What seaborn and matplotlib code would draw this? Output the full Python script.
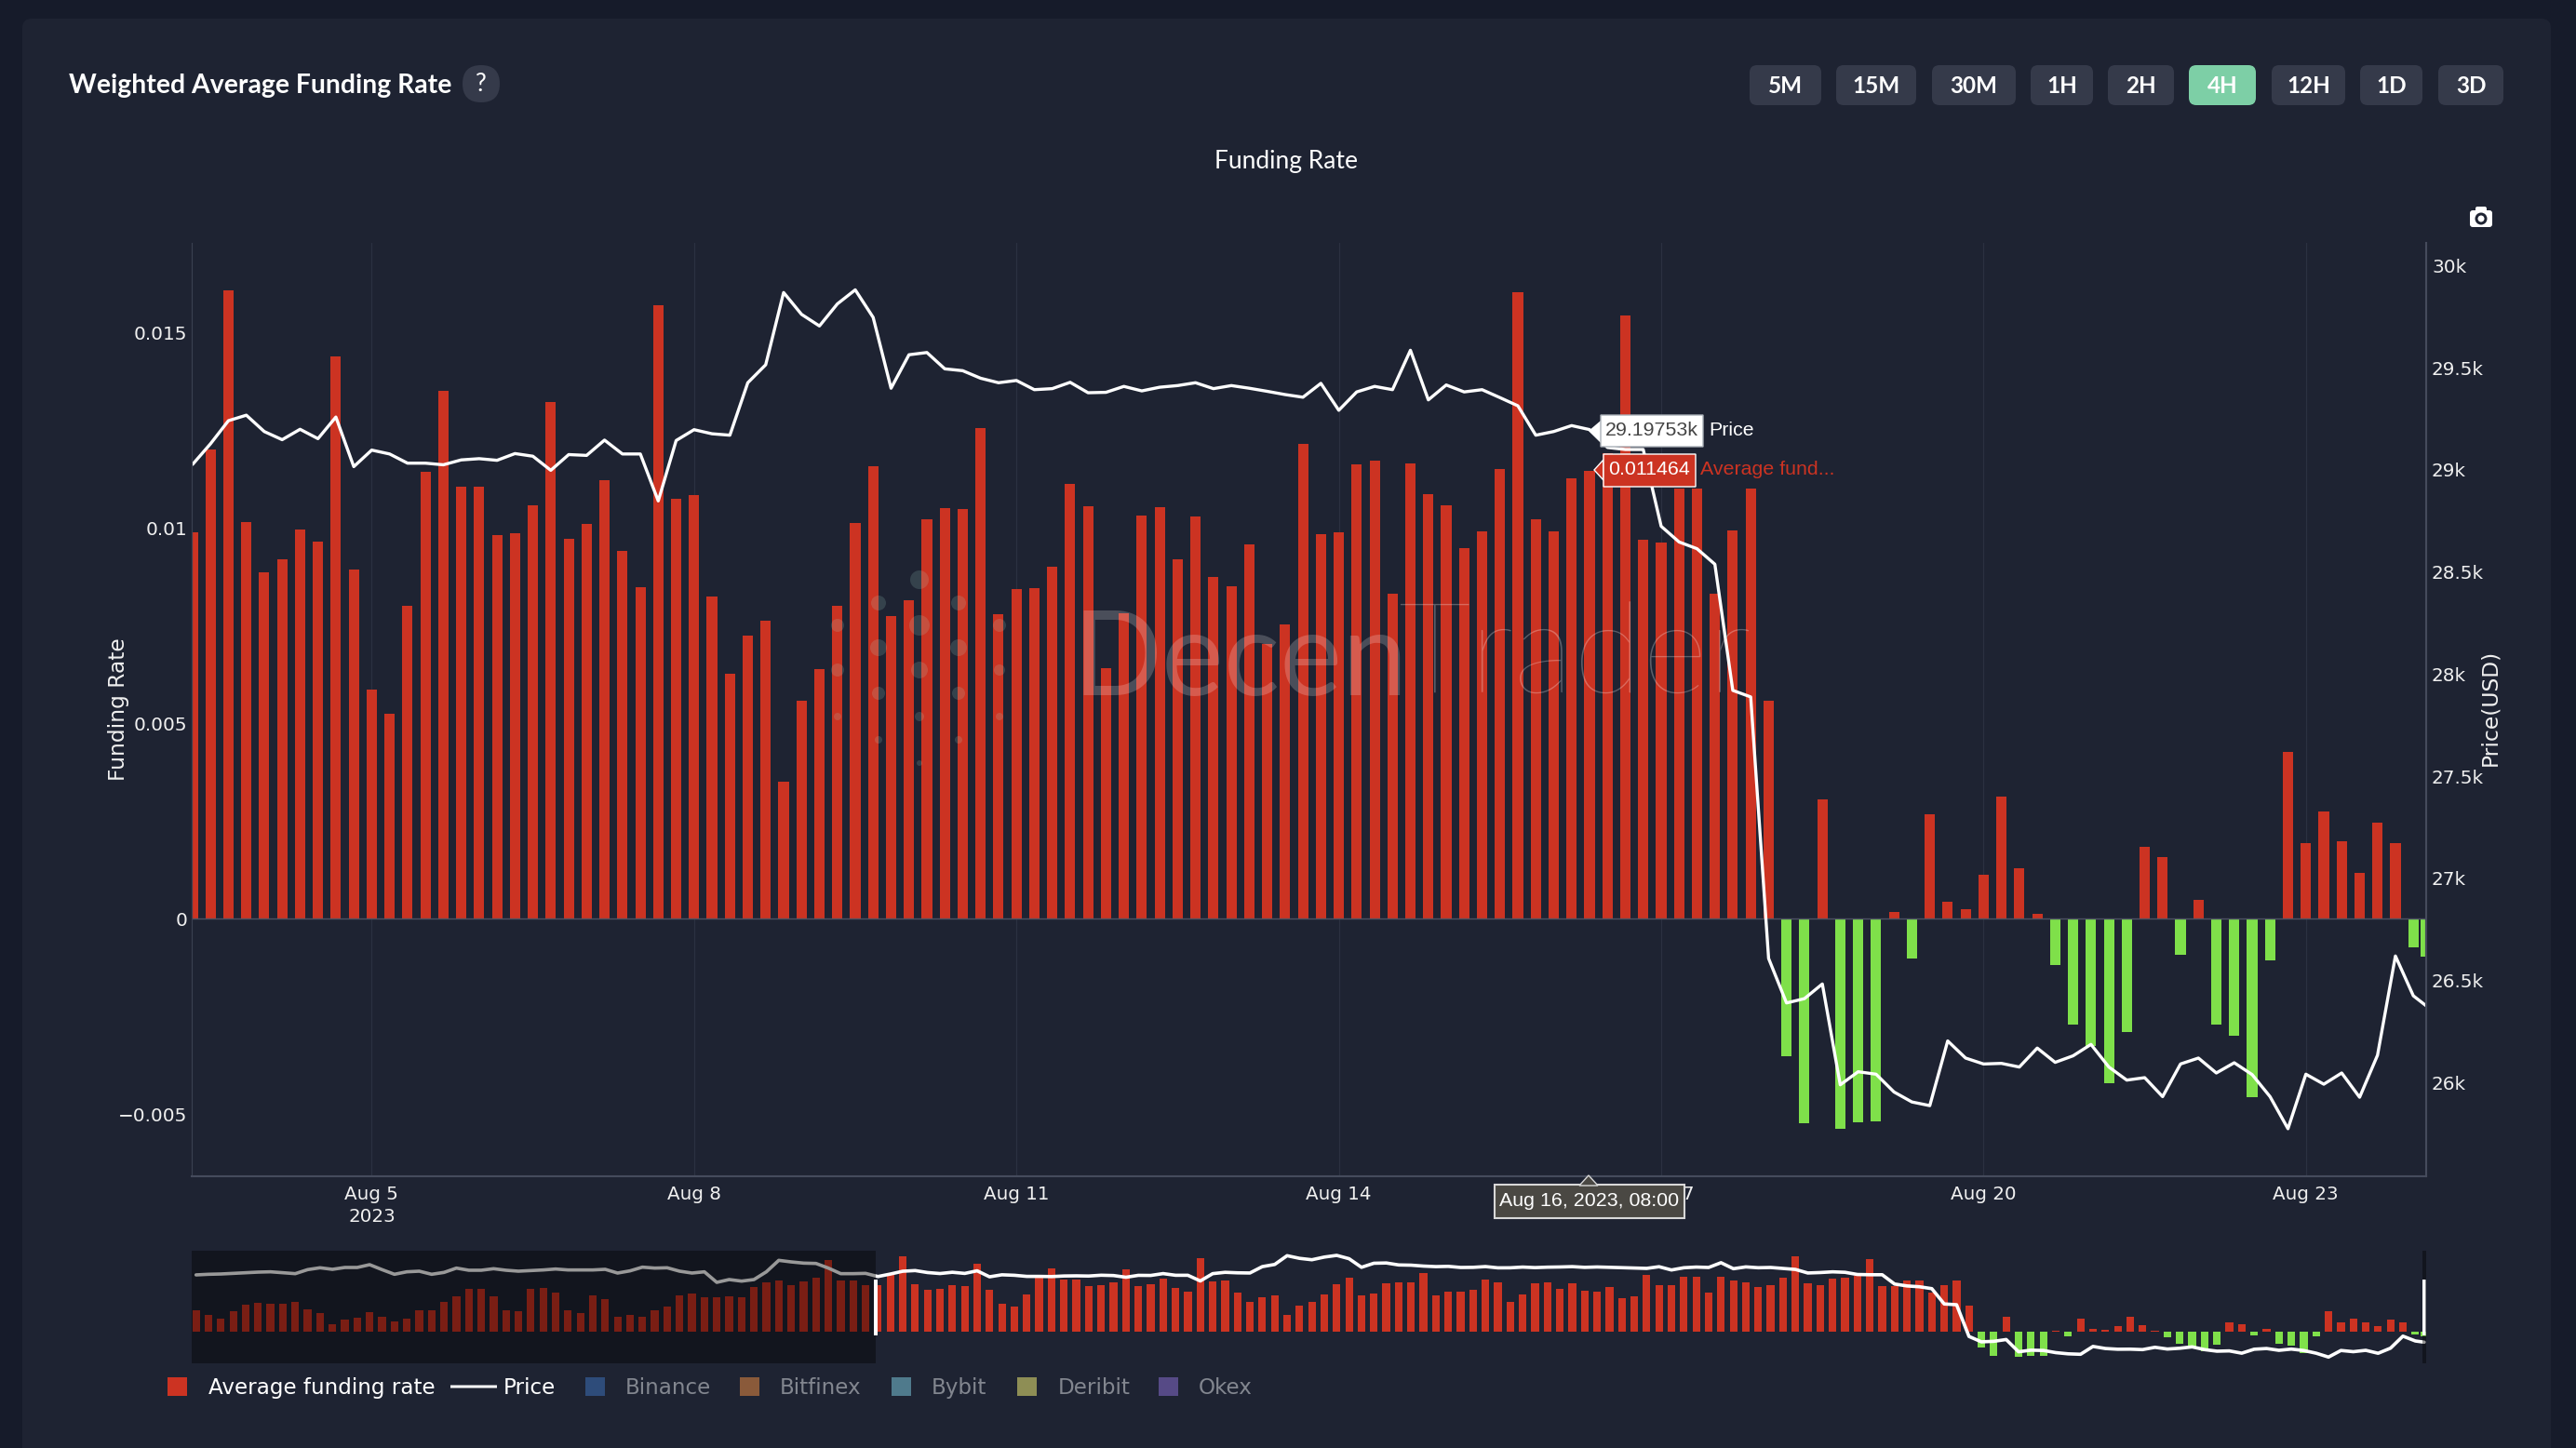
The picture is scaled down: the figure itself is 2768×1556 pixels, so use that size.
import numpy as np
import pandas as pd
import seaborn as sns
import matplotlib
matplotlib.use('Agg')
import matplotlib.pyplot as plt
import matplotlib.dates as mdates
from matplotlib.patches import FancyBboxPatch, Rectangle, Polygon, Circle
from matplotlib.transforms import IdentityTransform

W, H = 2768, 1556

# funding rate, 4h bars, part left of the range slider window
funding_hist = [0.00445, 0.00352, 0.00272, 0.00439, 0.00578, 0.00611, 0.00591, 0.00585, 0.00631, 0.00472,
                0.00399, 0.00153, 0.00252, 0.00292, 0.00405, 0.00306, 0.00206, 0.00272, 0.00452, 0.00458,
                0.00638, 0.00744, 0.00910, 0.00904, 0.00751, 0.00452, 0.00439, 0.00917, 0.00930, 0.00831,
                0.00452, 0.00392, 0.00771, 0.00684, 0.00312, 0.00346, 0.00312, 0.00445, 0.00532, 0.00771,
                0.00811, 0.00731, 0.00724, 0.00744, 0.00731, 0.00950, 0.01043, 0.01090, 0.00990, 0.01076,
                0.01150, 0.01535, 0.01096, 0.01090, 0.00983]

# funding rate inside the window, Aug 3 08:00 onwards
funding_view = [0.00988, 0.01200, 0.01608, 0.01015, 0.00886, 0.00920, 0.00995, 0.00964, 0.01439, 0.00894,
                0.00585, 0.00524, 0.00799, 0.01144, 0.01350, 0.01105, 0.01105, 0.00980, 0.00985, 0.01058,
                0.01322, 0.00972, 0.01010, 0.01122, 0.00940, 0.00848, 0.01568, 0.01073, 0.01083, 0.00823,
                0.00627, 0.00723, 0.00762, 0.00351, 0.00558, 0.00637, 0.00799, 0.01013, 0.01158, 0.00773,
                0.00815, 0.01022, 0.01050, 0.01048, 0.01255, 0.00778, 0.00843, 0.00846, 0.00900, 0.01113,
                0.01054, 0.00641, 0.00782, 0.01032, 0.01053, 0.00918, 0.01029, 0.00874, 0.00849, 0.00956,
                0.00703, 0.00753, 0.01215, 0.00984, 0.00988, 0.01163, 0.01171, 0.00830, 0.01165, 0.01085,
                0.01058, 0.00947, 0.00991, 0.01149, 0.01602, 0.01022, 0.00991, 0.01127, 0.011464, 0.01190,
                0.01544, 0.00969, 0.00961, 0.01100, 0.01100, 0.00831, 0.00993, 0.01099, 0.00557, -0.00352,
                -0.00524, 0.00305, -0.00539, -0.00522, -0.00519, 0.00017, -0.00102, 0.00267, 0.00044, 0.00024,
                0.00112, 0.00311, 0.00128, 0.00012, -0.00120, -0.00272, -0.00326, -0.00422, -0.00290, 0.00184,
                0.00158, -0.00094, 0.00047, -0.00272, -0.00300, -0.00456, -0.00108, 0.00427, 0.00193, 0.00275,
                0.00197, 0.00117, 0.00246, 0.00193, -0.00074, -0.00097]

price_hist = [29093, 29118, 29130, 29155, 29180, 29205, 29218, 29180, 29143, 29306,
              29381, 29318, 29393, 29393, 29506, 29306, 29118, 29218, 29243, 29118,
              29193, 29368, 29281, 29281, 29343, 29281, 29243, 29268, 29293, 29331,
              29293, 29293, 29293, 29318, 29168, 29256, 29406, 29368, 29381, 29243,
              29168, 29218, 28792, 28905, 28842, 28905, 29218, 29681, 29618, 29569,
              29556, 29368, 29143, 29143, 29155]

price_view = [29027, 29128, 29241, 29268, 29188, 29148, 29199, 29153, 29259, 29016,
              29097, 29078, 29033, 29033, 29025, 29049, 29055, 29047, 29080, 29067,
              28998, 29075, 29071, 29146, 29078, 29078, 28848, 29144, 29197, 29177,
              29170, 29427, 29515, 29869, 29762, 29705, 29813, 29882, 29747, 29400,
              29564, 29575, 29495, 29486, 29449, 29427, 29438, 29393, 29398, 29429,
              29378, 29380, 29409, 29387, 29405, 29413, 29427, 29398, 29413, 29400,
              29385, 29369, 29356, 29424, 29292, 29382, 29409, 29393, 29586, 29343,
              29416, 29382, 29393, 29354, 29314, 29170, 29188, 29217, 29197.53, 29110,
              29100, 29100, 28724, 28647, 28614, 28538, 27920, 27888, 26607, 26389,
              26410, 26482, 25988, 26052, 26040, 25953, 25904, 25886, 26203, 26119,
              26090, 26093, 26075, 26168, 26098, 26130, 26186, 26075, 26011, 26023,
              25930, 26090, 26119, 26046, 26096, 26038, 25930, 25773, 26040, 25991,
              26046, 25927, 26133, 26619, 26424, 26375]

# last bar is still open, so it sits less than 4h after the one before
last_stamp = '2023-08-24 02:52'

funding_ticks = [-0.005, 0, 0.005, 0.01, 0.015]
funding_tick_labels = ['\u22120.005', '0', '0.005', '0.01', '0.015']
price_ticks = [26000, 26500, 27000, 27500, 28000, 28500, 29000, 29500, 30000]
price_tick_labels = ['26k', '26.5k', '27k', '27.5k', '28k', '28.5k', '29k', '29.5k', '30k']
date_ticks = ['2023-08-05', '2023-08-08', '2023-08-11', '2023-08-14', '2023-08-17', '2023-08-20', '2023-08-23']
date_tick_labels = ['Aug 5\n2023', 'Aug 8', 'Aug 11', 'Aug 14', 'Aug 17', 'Aug 20', 'Aug 23']

intervals = ['5M', '15M', '30M', '1H', '2H', '4H', '12H', '1D', '3D']
legend_names = ['Average funding rate', 'Price', 'Binance', 'Bitfinex', 'Bybit', 'Deribit', 'Okex']

PAGE = '#161b2a'
CARD = '#1e2332'
RED = '#cc3322'
GREEN = '#7fe04a'
EDGE = '#454b5c'

sns.set_theme(style='dark', rc={'axes.facecolor': CARD, 'figure.facecolor': PAGE})
plt.rcParams['font.family'] = ['DejaVu Sans']

stamps = pd.date_range('2023-07-25 04:00', periods=180, freq='4h').append(pd.DatetimeIndex([last_stamp]))
df = pd.DataFrame({
    'date': mdates.date2num(stamps),
    'funding': funding_hist + funding_view,
    'price': price_hist + price_view,
})
df['side'] = np.where(df['funding'] >= 0, 'up', 'down')
colors = {'up': RED, 'down': GREEN}


def axes_at(x0, y0, x1, y1):
    return fig.add_axes([x0 / W, 1 - y1 / H, (x1 - x0) / W, (y1 - y0) / H])


def draw_series(ax, ax2, bar_width, line_width):
    sns.barplot(data=df, x='date', y='funding', hue='side', palette=colors, native_scale=True, dodge=False,
                width=bar_width, saturation=1, errorbar=None, legend=False, linewidth=0, ax=ax)
    sns.lineplot(data=df, x='date', y='price', color='white', linewidth=line_width, errorbar=None, legend=False, ax=ax2)


def label(x, y, s, **kw):
    kw.setdefault('va', 'center')
    kw.setdefault('color', 'white')
    fig.text(x, H - y, s, transform=IdentityTransform(), **kw)


def box(x0, y0, x1, y1, color, r=0, edge='none', lw=0, z=2):
    fig.add_artist(FancyBboxPatch((x0, H - y1), x1 - x0, y1 - y0, boxstyle=f'round,pad=0,rounding_size={r}',
                                  facecolor=color, edgecolor=edge, linewidth=lw, zorder=z,
                                  transform=IdentityTransform()))


def poly(points, color, edge='none', lw=0, z=2):
    fig.add_artist(Polygon([(x, H - y) for x, y in points], closed=True, facecolor=color, edgecolor=edge,
                           linewidth=lw, zorder=z, transform=IdentityTransform()))


def dot(cx, cy, r, color, alpha=1.0, z=3):
    fig.add_artist(Circle((cx, H - cy), r, facecolor=color, edgecolor='none', alpha=alpha, zorder=z,
                          transform=IdentityTransform()))


fig = plt.figure(figsize=(W / 100, H / 100), dpi=100)
fig.patch.set_facecolor(PAGE)
box(24, 20, 2741, 1600, CARD, r=10, z=-1)

# main chart
ax = axes_at(206, 261, 2607, 1264)
ax.patch.set_alpha(0)
ax2 = ax.twinx()
draw_series(ax, ax2, 0.806, 2.4)

main_xlim = mdates.date2num([pd.Timestamp('2023-08-03 07:48'), pd.Timestamp(last_stamp)])
ax.set_xlim(main_xlim)
ax.set_ylim(-0.006595, 0.017286)
ax2.set_ylim(25540, 30112)

ax.set_xticks(mdates.date2num(pd.to_datetime(date_ticks)))
ax.set_xticklabels(date_tick_labels, fontsize=14.3, color='#f0f0f0', linespacing=1.38)
ax.set_yticks(funding_ticks)
ax.set_yticklabels(funding_tick_labels, fontsize=14.4, color='#f0f0f0')
ax2.set_yticks(price_ticks)
ax2.set_yticklabels(price_tick_labels, fontsize=14.4, color='#f0f0f0')
ax.tick_params(axis='x', length=0, pad=7)
ax.tick_params(axis='y', length=0, pad=3.6)
ax2.tick_params(axis='y', length=0, pad=4.3)
ax.set_xlabel('')
ax.set_ylabel('Funding Rate', fontsize=16.8, color='#f0f0f0', va='center')
ax.yaxis.set_label_coords(-0.0329, 0.5)
ax2.set_ylabel('Price(USD)', fontsize=16.8, color='#f0f0f0', rotation=90, va='center')
ax2.yaxis.set_label_coords(1.0287, 0.502)

ax.set_axisbelow(True)
ax.grid(axis='x', color='#2b3141', linewidth=0.9)
ax.grid(axis='y', visible=False)
ax.axhline(0, color='#4c5263', linewidth=1, zorder=1)
for a in (ax, ax2):
    a.spines['top'].set_visible(False)
    a.spines['left'].set_color('#3a4050')
    a.spines['left'].set_linewidth(0.8)
    a.spines['bottom'].set_color(EDGE)
    a.spines['bottom'].set_linewidth(1.5)
    a.spines['right'].set_color(EDGE)
    a.spines['right'].set_linewidth(1.5)

# range slider
ov = axes_at(206, 1344, 2607, 1465)
ov.patch.set_alpha(0)
ov2 = ov.twinx()
draw_series(ov, ov2, 0.86, 2.6)
ov_xlim = mdates.date2num([pd.Timestamp('2023-07-25 02:36'), pd.Timestamp('2023-08-24 03:30')])
ov.set_xlim(ov_xlim)
ov.set_ylim(-0.00684, 0.01728)
ov2.set_ylim(25521, 30070)
for a in (ov, ov2):
    a.set_xticks([])
    a.set_yticks([])
    a.set_xlabel('')
    a.set_ylabel('')
    a.grid(False)
    for s in a.spines.values():
        s.set_visible(False)
fig.add_artist(Rectangle((206, H - 1465), 735, 121, facecolor='black', edgecolor='none', linewidth=0, alpha=0.4,
                         zorder=2, transform=IdentityTransform()))
fig.add_artist(Rectangle((2603, H - 1465), 4, 121, facecolor='black', edgecolor='none', linewidth=0, alpha=0.4,
                         zorder=2, transform=IdentityTransform()))
box(939, 1375, 943, 1435, 'white')
box(2603, 1375, 2606.5, 1435, 'white')

# watermark
watermark_dots = [(900, 672, 7), (900, 720, 7), (900, 770, 4),
                  (944, 648, 8), (944, 696, 9), (944, 745, 7), (944, 795, 4),
                  (988, 623, 10), (988, 672, 11), (988, 720, 9), (988, 770, 5), (988, 820, 3),
                  (1030, 648, 8), (1030, 696, 9), (1030, 745, 7), (1030, 795, 4),
                  (1074, 672, 7), (1074, 720, 6), (1074, 770, 4)]
for cx, cy, r in watermark_dots:
    dot(cx, cy, r, '#a8e0d0', alpha=0.17, z=2)
label(1152, 712, 'Decen', fontsize=91, family='Lato', color='white', alpha=0.2, zorder=2)
label(1502, 708, 'Trader', fontsize=98, family='Lato', fontweight='light', color='white', alpha=0.27, zorder=2)

# hover labels
poly([(1707, 463), (1720, 452), (1720, 475)], 'white', z=3)
box(1720, 446, 1830, 480, 'white', edge='#aab0b8', lw=1, z=3)
label(1775, 463, '29.19753k', fontsize=15.4, family='Liberation Sans', color='#444444', ha='center', zorder=4)
label(1836, 463, 'Price', fontsize=15.4, family='Liberation Sans', zorder=4)
poly([(1713, 505), (1723, 494), (1723, 516)], RED, edge='white', lw=1, z=3)
box(1723, 488, 1822, 523, RED, edge='white', lw=1, z=3)
label(1772, 505, '0.011464', fontsize=15.4, family='Liberation Sans', ha='center', zorder=4)
label(1827, 505, 'Average fund...', fontsize=15.4, family='Liberation Sans', color=RED, zorder=4)
box(1606, 1273, 1810, 1309, '#4a4843', edge='#d8d8d8', lw=1.5, z=3)
poly([(1707, 1263), (1697, 1274), (1717, 1274)], '#4a4843', edge='#d8d8d8', lw=1, z=3)
label(1708, 1291, 'Aug 16, 2023, 08:00', fontsize=15.4, family='Liberation Sans', ha='center', zorder=4)

# header
label(74, 92, 'Weighted Average Funding Rate', fontsize=20.4, family='Lato', fontweight='bold', zorder=4)
box(497, 70, 537, 110, '#353a4a', r=20)
label(517, 91, '?', fontsize=19, family='Lato', ha='center', zorder=4)
label(1382, 173, 'Funding Rate', fontsize=19, family='Lato', ha='center', zorder=4)

button_edges = [(1880, 1957), (1973, 2059), (2076, 2166), (2182, 2249), (2265, 2336),
                (2352, 2424), (2441, 2520), (2536, 2603), (2620, 2690)]
for name, (x0, x1) in zip(intervals, button_edges):
    box(x0, 70, x1, 113, '#7dcfa6' if name == '4H' else '#353a4a', r=8)
    label((x0 + x1) / 2, 93, name, fontsize=17.5, family='Lato', fontweight='bold', ha='center', zorder=4)

# camera
box(2654, 226, 2678, 244, 'white', r=3)
box(2660, 222, 2672, 230, 'white', r=2)
dot(2666, 235, 6.5, CARD)
dot(2666, 235, 3.5, 'white')

# legend
swatch_colors = [RED, None, '#2e4c7a', '#8a5a3a', '#4f7a8c', '#8e8e55', '#564a86']
swatch_x = [180, 484, 629, 795, 958, 1093, 1245]
text_x = [224, 541, 672, 838, 1001, 1137, 1288]
for i, name in enumerate(legend_names):
    if swatch_colors[i] is None:
        box(swatch_x[i], 1488.5, swatch_x[i] + 50, 1491.5, 'white')
    else:
        box(swatch_x[i], 1480, swatch_x[i] + 21, 1500, swatch_colors[i])
    label(text_x[i], 1491.5, name, fontsize=16.6, color='white' if i < 2 else '#82868f', zorder=4)

plt.savefig('out.png', dpi=100, facecolor=PAGE)
